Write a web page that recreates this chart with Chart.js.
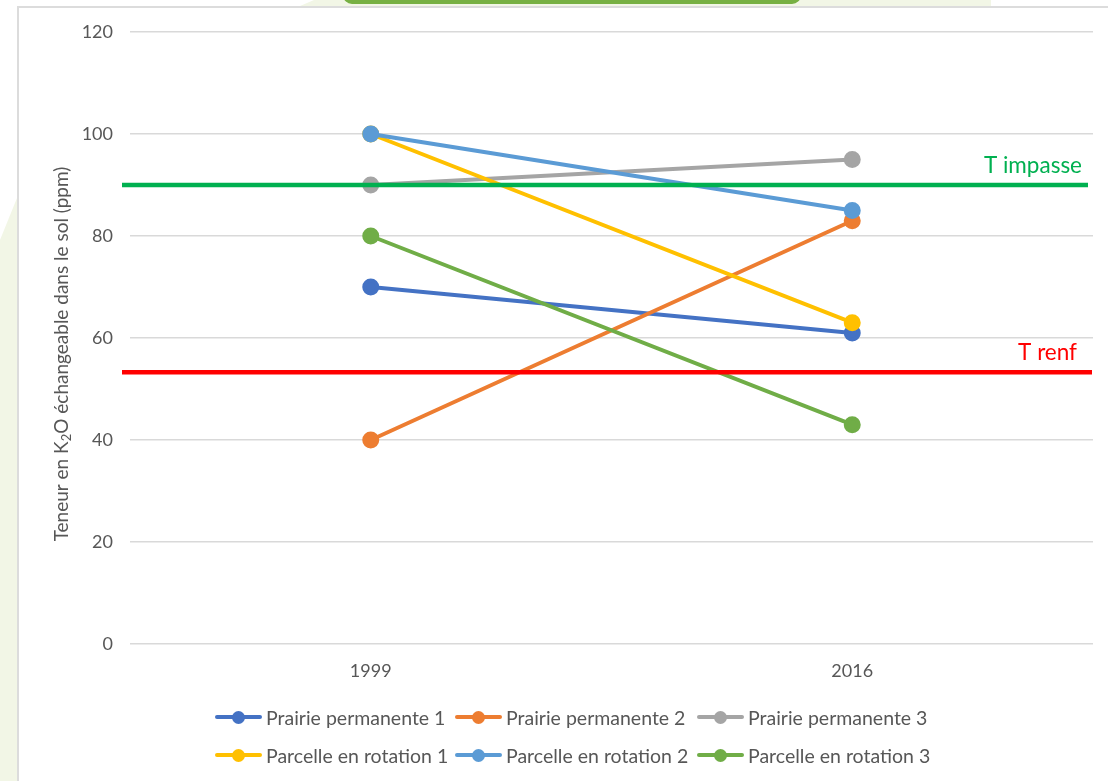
<!DOCTYPE html>
<html lang="fr">
<head>
<meta charset="utf-8">
<title>Teneur en K2O</title>
<script src="https://cdn.jsdelivr.net/npm/chart.js@4/dist/chart.umd.min.js"></script>
<style>
  html, body { margin: 0; padding: 0; background: #fff; }
  body { width: 1108px; height: 781px; position: relative; overflow: hidden; font-family: Lato, "Open Sans", sans-serif; }
  .deco { position: absolute; }
  #creamTop { left: 300px; top: 0; width: 691px; height: 6px; background: #f2f6e6; clip-path: polygon(14px 0, 100% 0, 100% 100%, 0 100%); }
  #greenTab { left: 343px; top: -8px; width: 458px; height: 12px; background: #77b043; border-radius: 0 0 9px 9px; }
  #topRule { left: 17px; right: 0; top: 6px; height: 2px; background: #dcdcdc; }
  #creamLeft { left: 0; top: 198px; width: 17px; bottom: 0; background: #f2f6e6; clip-path: polygon(0 42px, 100% 0, 100% 100%, 0 100%); }
  #leftRule { left: 17px; top: 6px; width: 2px; bottom: 0; background: #dcdcdc; }
  #wrap { position: absolute; left: 0; top: 0; width: 1108px; height: 700px; }
  #legend { position: absolute; left: 215px; top: 698px; display: grid; grid-template-columns: 240px 242px auto; }
  .item { display: flex; align-items: center; height: 38px; font-size: 19.5px; color: #575757; white-space: nowrap; }
  .mark { position: relative; width: 47px; height: 13px; margin-right: 4px; }
  .mark .ln { position: absolute; left: 0; right: 0; top: 4.5px; height: 4px; border-radius: 2px; }
  .mark .dt { position: absolute; left: 17px; top: 0; width: 13px; height: 13px; border-radius: 50%; }
</style>
</head>
<body>
<div class="deco" id="creamTop"></div>
<div class="deco" id="greenTab"></div>
<div class="deco" id="creamLeft"></div>
<div class="deco" id="topRule"></div>
<div class="deco" id="leftRule"></div>
<div id="wrap"><canvas id="chart"></canvas></div>
<div id="legend"></div>
<script>
const years = ["1999", "2016"];

const seriesNames = [
  "Prairie permanente 1", "Prairie permanente 2", "Prairie permanente 3",
  "Parcelle en rotation 1", "Parcelle en rotation 2", "Parcelle en rotation 3"
];
const seriesColors = ["#4472c4", "#ed7d31", "#a5a5a5", "#ffc000", "#5b9bd5", "#70ad47"];

// K2O en ppm, 1999 puis 2016
const prairie1 = [70, 61];
const prairie2 = [40, 83];
const prairie3 = [90, 95];
const rotation1 = [100, 63];
const rotation2 = [100, 85];
const rotation3 = [80, 43];
const seriesValues = [prairie1, prairie2, prairie3, rotation1, rotation2, rotation3];

// seuils
const thresholdNames = ["T impasse", "T renf"];
const thresholdValues = [90, 53.3];
const thresholdColors = ["#00b050", "#ff0000"];

const yTicks = { min: 0, max: 120, step: 20 };

// titre de l'axe : [texte, indice ?]
const yTitleParts = [["Teneur en K", false], ["2", true], ["O échangeable dans le sol (ppm)", false]];

const textGrey = "#575757";
const gridGrey = "#d9d9d9";

const thresholdPlugin = {
  id: "thresholds",
  afterDatasetsDraw(chart) {
    const {ctx, chartArea, scales} = chart;
    ctx.save();
    thresholdValues.forEach((v, i) => {
      const y = scales.y.getPixelForValue(v);
      ctx.strokeStyle = thresholdColors[i];
      ctx.lineWidth = 4.5;
      ctx.beginPath();
      ctx.moveTo(chartArea.left - 8, y);
      ctx.lineTo(chartArea.right - (i === 0 ? 5 : 1), y);
      ctx.stroke();
      ctx.fillStyle = thresholdColors[i];
      ctx.font = "22.5px Lato";
      ctx.textAlign = "right";
      ctx.textBaseline = "alphabetic";
      ctx.fillText(thresholdNames[i], chartArea.right - (i === 0 ? 11 : 16), y - 12);
    });
    ctx.restore();
  }
};

// titre vertical avec le 2 en indice, un peu sous le milieu de la zone de tracé
const yTitlePlugin = {
  id: "yTitle",
  afterDraw(chart) {
    const {ctx, chartArea} = chart;
    const big = "19px Lato", small = "13px Lato";
    ctx.save();
    ctx.translate(62, (chartArea.top + chartArea.bottom) / 2 + 16);
    ctx.rotate(-Math.PI / 2);
    ctx.fillStyle = textGrey;
    ctx.textBaseline = "middle";
    ctx.textAlign = "left";
    let total = 0;
    yTitleParts.forEach(([t, sub]) => {
      ctx.font = sub ? small : big;
      total += ctx.measureText(t).width;
    });
    let x = -total / 2;
    yTitleParts.forEach(([t, sub]) => {
      ctx.font = sub ? small : big;
      ctx.fillText(t, x, sub ? 5 : 0);
      x += ctx.measureText(t).width;
    });
    ctx.restore();
  }
};

const chart = new Chart(document.getElementById("chart"), {
  type: "line",
  data: {
    labels: years,
    datasets: seriesNames.map((name, i) => ({
      label: name,
      data: seriesValues[i],
      borderColor: seriesColors[i],
      backgroundColor: seriesColors[i],
      pointBackgroundColor: seriesColors[i],
      pointBorderColor: seriesColors[i],
      borderWidth: 4,
      pointRadius: 6.5,
      pointHoverRadius: 6.5,
      borderCapStyle: "round",
      tension: 0,
      order: seriesNames.length - i
    }))
  },
  options: {
    responsive: true,
    maintainAspectRatio: false,
    animation: false,
    layout: { padding: { left: 40, right: 15, top: 32, bottom: 0 } },
    plugins: {
      legend: { display: false },
      tooltip: { enabled: false }
    },
    scales: {
      x: {
        offset: true,
        grid: { display: false, drawTicks: false },
        border: { display: false },
        ticks: { color: textGrey, font: { family: "Lato", size: 18 }, padding: 16 },
        afterFit(scale) { scale.height = 56; }
      },
      y: {
        min: yTicks.min,
        max: yTicks.max,
        ticks: { stepSize: yTicks.step, color: textGrey, font: { family: "Lato", size: 18 }, padding: 17 },
        grid: { color: gridGrey, lineWidth: 1.5, drawTicks: false },
        border: { display: false },
        afterFit(scale) { scale.width = 90; }
      }
    }
  },
  plugins: [thresholdPlugin, yTitlePlugin]
});

// légende en HTML, construite depuis les datasets
const legendBox = document.getElementById("legend");
chart.data.datasets.forEach(ds => {
  const item = document.createElement("div");
  item.className = "item";
  const mark = document.createElement("span");
  mark.className = "mark";
  const ln = document.createElement("span");
  ln.className = "ln";
  ln.style.background = ds.borderColor;
  const dt = document.createElement("span");
  dt.className = "dt";
  dt.style.background = ds.borderColor;
  mark.appendChild(ln);
  mark.appendChild(dt);
  const txt = document.createElement("span");
  txt.textContent = ds.label;
  item.appendChild(mark);
  item.appendChild(txt);
  legendBox.appendChild(item);
});
</script>
</body>
</html>
